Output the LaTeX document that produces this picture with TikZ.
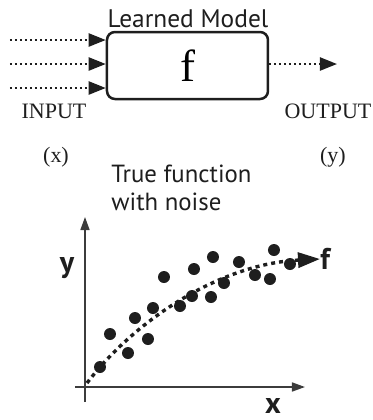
\documentclass[tikz,border=0pt]{standalone}
\usepackage{fontspec}
\setmainfont{Liberation Serif}
\setsansfont{PT Sans}
\usepackage{xcolor}
\definecolor{axisgray}{RGB}{60,60,60}
\definecolor{inkblack}{RGB}{30,30,30}
\usetikzlibrary{arrows.meta,positioning}
\tikzset{
  model box/.style={draw=inkblack, rounded corners=4pt, line width=1.25pt, minimum width=80.5pt, minimum height=33.5pt, font=\fontsize{22.5}{22.5}\selectfont, inner sep=0pt},
  signal edge/.style={-{Triangle[length=8.5pt,width=6.5pt]}, inkblack, line width=1.1pt, dash pattern=on 1.1pt off 1.4pt},
  signal label/.style={font=\fontsize{11}{13}\selectfont, text=inkblack},
  axis edge/.style={-{Triangle[length=6.5pt,width=4.5pt]}, axisgray, line width=0.8pt},
  curve edge/.style={-{Triangle[length=11pt,width=7.5pt]}, inkblack, line width=1.7pt, dash pattern=on 2pt off 2pt},
  noise dot/.style={circle, fill=inkblack, inner sep=0pt, minimum size=6pt},
  axis label/.style={font=\sffamily\bfseries\fontsize{15}{15}\selectfont, text=inkblack},
}

\begin{document}
\begin{tikzpicture}[x=0.5pt, y=-0.5pt]
  \useasboundingbox (0,0) rectangle (372,420);
  % learned model block
  \node[model box] (model) at (187.5,65.5) {f};
  \node[anchor=base, font=\sffamily\fontsize{12.7}{12.7}\selectfont, text=inkblack] (title) at (188,27) {Learned Model};
  \coordinate (in1) at (10,40);
  \coordinate (in2) at (10,64);
  \coordinate (in3) at (10,88);
  \coordinate (out) at (337,64);
  \draw[signal edge] (in1) -- (in1 -| model.west);
  \draw[signal edge] (in2) -- (in2 -| model.west);
  \draw[signal edge] (in3) -- (in3 -| model.west);
  \draw[signal edge] (out -| model.east) -- (out);
  \node[signal label, anchor=base] (inlabel) at (54,118) {INPUT};
  \node[signal label, anchor=base] (outlabel) at (328,118) {OUTPUT};
  \node[signal label] (xsym) at (56,157) {(x)};
  \node[signal label] (ysym) at (333,157) {(y)};
  % noisy data plot
  \coordinate (ybot) at (85,402);
  \coordinate (ytop) at (85,217);
  \coordinate (xleft) at (75,387);
  \coordinate (xright) at (305,387);
  \coordinate (origin) at (87,383);
  \draw[axis edge] (ybot) -- (ytop);
  \draw[axis edge] (xleft) -- (xright);
  \node[axis label] (ylabel) at (67,268) {y};
  \node[axis label] (xlabel) at (273,406) {x};
  \node[axis label, anchor=west, inner sep=0pt] (flabel) at (320,259) {f};
  \node[anchor=base west, align=left, inner sep=0pt, font=\sffamily\fontsize{12.4}{14}\selectfont, text=inkblack] (caption) at (111,210) {True function\\with noise};
  \foreach \px/\py [count=\i] in {100/367, 110/334, 128/353, 135/318, 148/339, 153/308, 164/277, 180/306, 192/296, 194/269, 211/297, 213/257, 224/283, 239/262, 255/275, 270/279, 274/250, 290/264}
    \node[noise dot] (dot\i) at (\px,\py) {};
  \draw[curve edge] (origin) .. controls (135,320) and (220,264) .. (flabel.west);
\end{tikzpicture}
\end{document}
